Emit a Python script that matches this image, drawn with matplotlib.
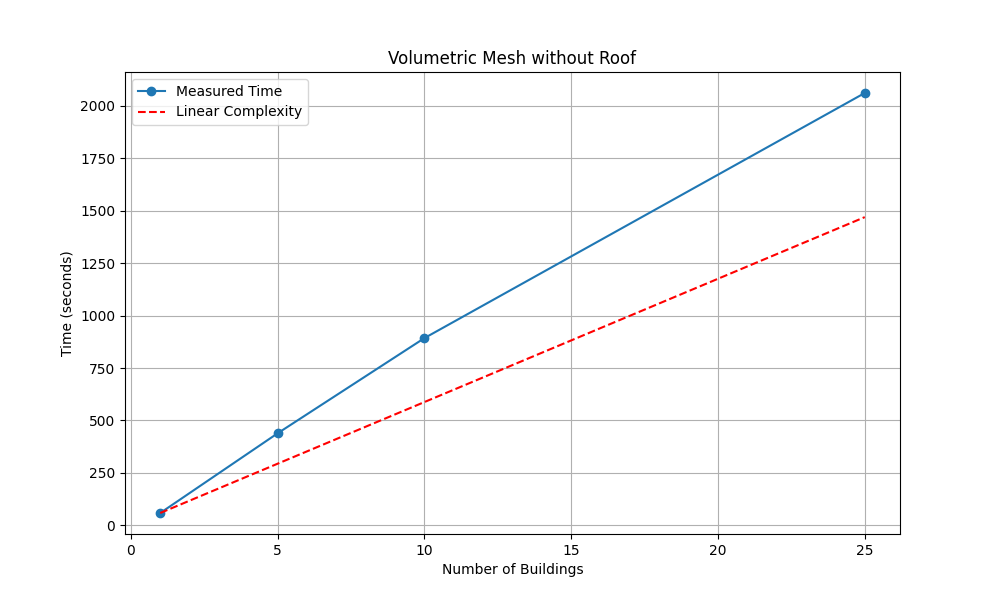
import matplotlib
matplotlib.use('Agg')
import matplotlib.pyplot as plt

# number of buildings vs. processing time
buildings = [1, 5, 10, 25]
measured_time = [58.8, 439, 893, 2062]
linear_time = [58.8, 294, 588, 1470]

plt.figure(figsize=(10, 6))
plt.plot(buildings, measured_time, marker='o', label='Measured Time')
plt.plot(buildings, linear_time, 'r--', label='Linear Complexity')
plt.title('Volumetric Mesh without Roof')
plt.xlabel('Number of Buildings')
plt.ylabel('Time (seconds)')
plt.legend()
plt.grid(True)
plt.savefig('out.png')
